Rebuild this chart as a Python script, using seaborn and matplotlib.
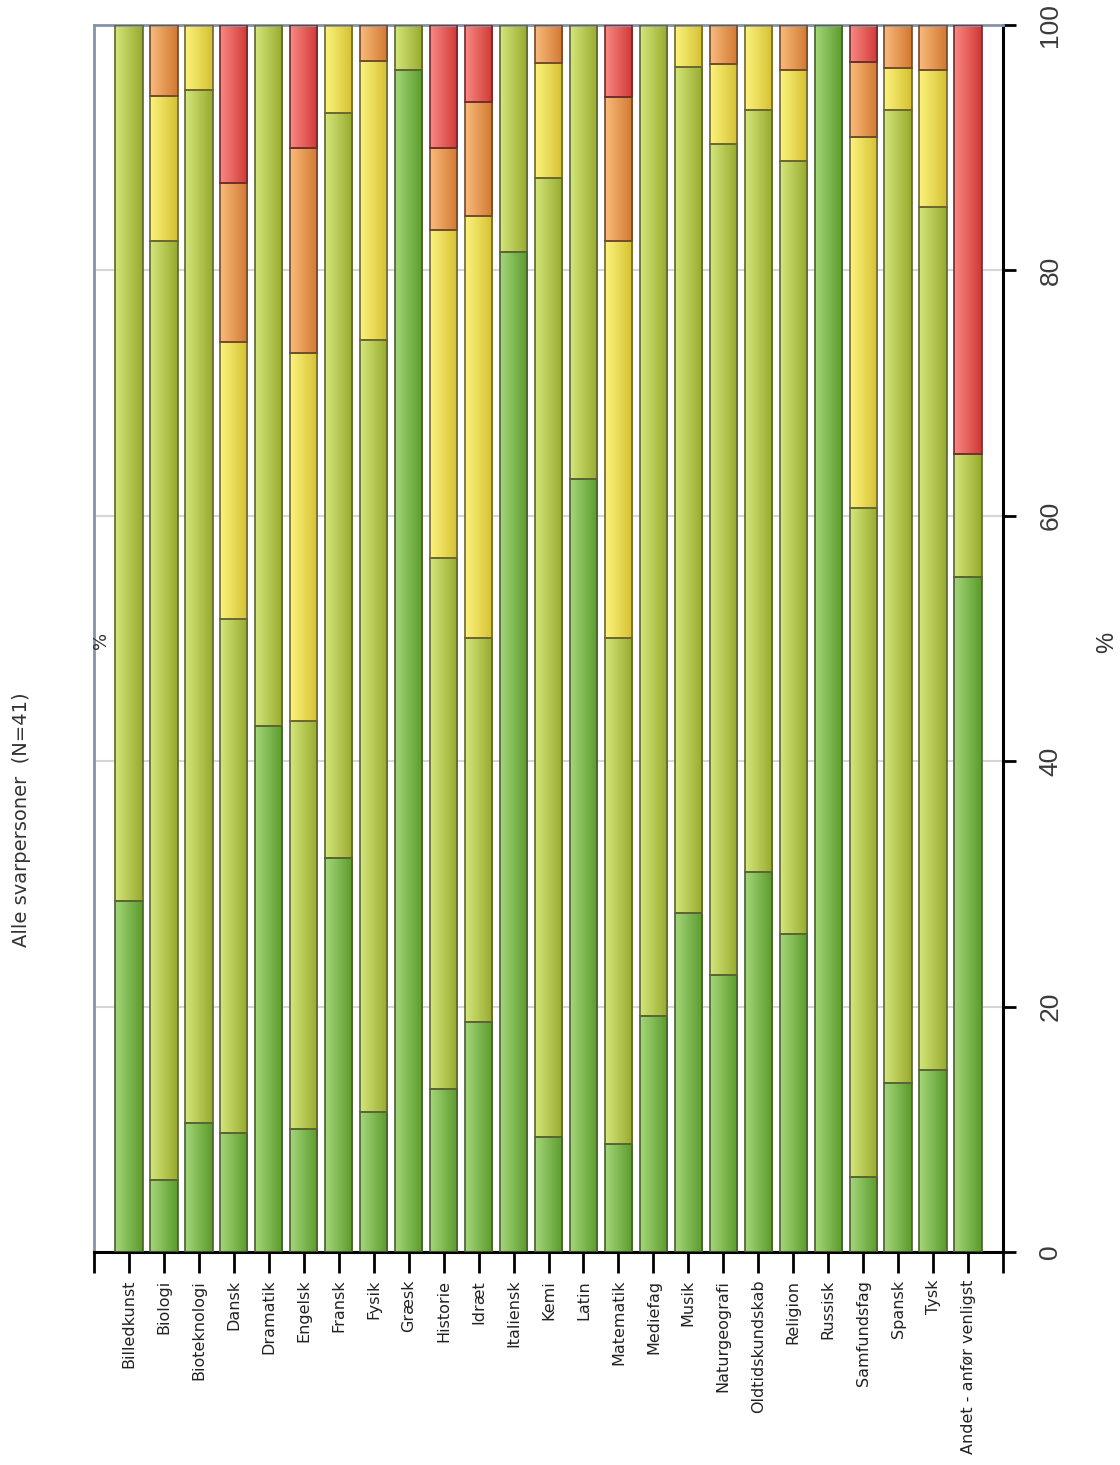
import numpy as np
import pandas as pd
import matplotlib
matplotlib.use("Agg")
import matplotlib.pyplot as plt
import seaborn as sns
from matplotlib.colors import LinearSegmentedColormap

# fag og andele (%) - stablet fra bund (groen) til top (roed)
fag = ['Billedkunst', 'Biologi', 'Bioteknologi', 'Dansk', 'Dramatik', 'Engelsk',
       'Fransk', 'Fysik', 'Græsk', 'Historie', 'Idræt', 'Italiensk', 'Kemi',
       'Latin', 'Matematik', 'Mediefag', 'Musik', 'Naturgeografi',
       'Oldtidskundskab', 'Religion', 'Russisk', 'Samfundsfag', 'Spansk',
       'Tysk', 'Andet - anfør venligst']

groen    = [28.6, 5.9, 10.5, 9.7, 42.9, 10.0, 32.1, 11.4, 96.3, 13.3, 18.75, 81.5, 9.4,
            63.0, 8.8, 19.2, 27.6, 22.6, 31.0, 25.9, 100.0, 6.1, 13.8, 14.8, 55.0]
lysgroen = [71.4, 76.5, 84.2, 41.9, 57.1, 33.3, 60.7, 62.9, 3.7, 43.3, 31.25, 18.5, 78.1,
            37.0, 41.2, 80.8, 69.0, 67.7, 62.1, 63.0, 0.0, 54.5, 79.3, 70.4, 10.0]
gul      = [0.0, 11.8, 5.3, 22.6, 0.0, 30.0, 7.2, 22.8, 0.0, 26.7, 34.4, 0.0, 9.4,
            0.0, 32.4, 0.0, 3.4, 6.5, 6.9, 7.4, 0.0, 30.3, 3.4, 11.1, 0.0]
orange   = [0.0, 5.8, 0.0, 12.9, 0.0, 16.7, 0.0, 2.9, 0.0, 6.7, 9.35, 0.0, 3.1,
            0.0, 11.7, 0.0, 0.0, 3.2, 0.0, 3.7, 0.0, 6.1, 3.5, 3.7, 0.0]
roed     = [0.0, 0.0, 0.0, 12.9, 0.0, 10.0, 0.0, 0.0, 0.0, 10.0, 6.25, 0.0, 0.0,
            0.0, 5.9, 0.0, 0.0, 0.0, 0.0, 0.0, 0.0, 3.0, 0.0, 0.0, 35.0]

yticks = [0, 20, 40, 60, 80, 100]

# gradient farver (venstre lys -> hoejre moerk)
gradients = [('#a5d77a', '#5a9a2a'),
             ('#d5e67c', '#97aa2c'),
             ('#fcf37e', '#d5c030'),
             ('#fabb7c', '#d17830'),
             ('#fa8884', '#d03834')]
edges = ['#4a5e30', '#5c6434', '#6e6630', '#70482a', '#702a2a']

sns.set_style("white")
plt.rcParams['font.family'] = ['DejaVu Sans']

fig = plt.figure(figsize=(11.2, 14.65), dpi=100)
ax = fig.add_axes([94 / 1120, 1 - 1252 / 1465, (1003 - 94) / 1120, (1252 - 25) / 1465])

layers = np.array([groen, lysgroen, gul, orange, roed])
cum = np.cumsum(layers, axis=0)
df = pd.DataFrame({'fag': fag})

seg_patches = []
for k in range(5):
    df['top'] = cum[k]
    n_before = len(ax.patches)
    sns.barplot(data=df, x='fag', y='top', ax=ax, width=0.78, color=gradients[k][0],
                saturation=1, edgecolor=edges[k], linewidth=1.2, errorbar=None)
    new = ax.patches[n_before:]
    bottoms = cum[k - 1] if k > 0 else np.zeros(len(fag))
    for p, b in zip(new, bottoms):
        h = p.get_height() - b
        p.set_y(b)
        p.set_height(h)
        p.set_facecolor('none')
        p.set_zorder(3)
        if h <= 0.01:
            p.set_visible(False)
            continue
        seg_patches.append((p, k))

grad = np.linspace(0, 1, 64).reshape(1, -1)
for p, k in seg_patches:
    cmap = LinearSegmentedColormap.from_list('g%d' % k, gradients[k])
    x0, y0 = p.get_x(), p.get_y()
    im = ax.imshow(grad, extent=[x0, x0 + p.get_width(), y0, y0 + p.get_height()],
                   aspect='auto', cmap=cmap, zorder=2, interpolation='bilinear')
    im.set_clip_path(p)

ax.set_xlim(-1, 25)
ax.set_ylim(0, 100)
ax.set_aspect('auto')

ax.set_xticks(range(-1, 26))
ax.set_xticklabels([''] + fag + [''], rotation=90, fontsize=11.5, color='#222222')
ax.set_xlabel('')
ax.set_ylabel('')

ax.yaxis.tick_right()
ax.set_yticks(yticks)
ax.set_yticklabels([str(t) for t in yticks], rotation=90, va='center',
                   fontsize=19, color='#3a3a3a',
                   family=['Liberation Sans', 'DejaVu Sans'])
ax.tick_params(axis='x', direction='out', length=15, width=2, color='black',
               pad=5, bottom=True)
ax.tick_params(axis='y', direction='out', length=9.5, width=2, color='black',
               pad=16, right=True, left=False)

ax.yaxis.grid(True, color='#d6d6d6', linewidth=1.5, zorder=0)
ax.xaxis.grid(False)
ax.set_axisbelow(True)

for s in ['left', 'top']:
    ax.spines[s].set_color('#8494a8')
    ax.spines[s].set_linewidth(2)
for s in ['right', 'bottom']:
    ax.spines[s].set_color('black')
    ax.spines[s].set_linewidth(2.2)
    ax.spines[s].set_visible(True)

fig.text(22 / 1120, 1 - 820 / 1465, 'Alle svarpersoner  (N=41)', rotation=90,
         ha='center', va='center', fontsize=14, color='#333333')
fig.text(1107 / 1120, 1 - 642 / 1465, '%', rotation=90, ha='center', va='center',
         fontsize=17, color='#333333', family=['Liberation Sans', 'DejaVu Sans'])
fig.text(101 / 1120, 1 - 640 / 1465, '%', rotation=90, ha='center', va='center',
         fontsize=13, color='#333333')

fig.savefig('out.png', dpi=100, facecolor='white')
